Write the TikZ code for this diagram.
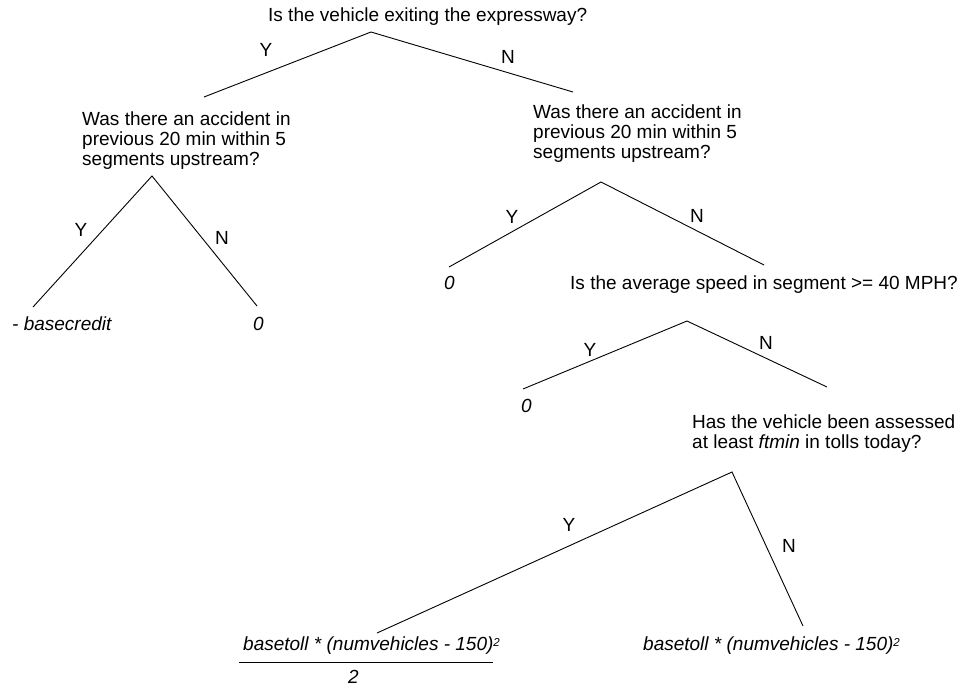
\documentclass[tikz,border=0pt]{standalone}
\usepackage{fontspec}
\setmainfont{Liberation Sans}
\newcommand{\supsq}{{\fontsize{11.5}{12}\selectfont\raisebox{3.5pt}{2}}}
\begin{document}
\begin{tikzpicture}[x=1pt,y=-1pt,
  every node/.style={inner sep=0pt, font=\fontsize{19}{20}\selectfont},
  txt/.style={anchor=base west},
  lbl/.style={anchor=center},
  br/.style={line width=0.9pt, black}]
\useasboundingbox (0,0) rectangle (961,686);
% question texts
\node[txt] (q0) at (268,21) {Is the vehicle exiting the expressway?};
\node[txt] (q1) at (82,125) {\begin{tabular}[t]{@{}l@{}}Was there an accident in\\previous 20 min within 5\\segments upstream?\end{tabular}};
\node[txt] (q2) at (533,118) {\begin{tabular}[t]{@{}l@{}}Was there an accident in\\previous 20 min within 5\\segments upstream?\end{tabular}};
\node[txt] (q3) at (570,289) {Is the average speed in segment >= 40 MPH?};
\node[txt] (q4) at (692,428) {\begin{tabular}[t]{@{}l@{}}Has the vehicle been assessed\\at least \textit{ftmin} in tolls today?\end{tabular}};
% leaves
\node[txt] (l1) at (12,330) {\itshape - basecredit};
\node[txt] (l2) at (253,330) {\itshape 0};
\node[txt] (l3) at (444,289) {\itshape 0};
\node[txt] (l4) at (521,412) {\itshape 0};
\node[txt] (l5) at (243,650) {\itshape basetoll * (numvehicles - 150)\supsq};
\node[txt] (l5d) at (348,683) {\itshape 2};
\node[txt] (l6) at (643,650) {\itshape basetoll * (numvehicles - 150)\supsq};
\draw[br] (239,662) -- (493,662);
% branch points
\coordinate (a0) at (371,32);  \coordinate (a0l) at (204,97);  \coordinate (a0r) at (573,92);
\coordinate (a1) at (152,176); \coordinate (a1l) at (33,307);  \coordinate (a1r) at (257,306);
\coordinate (a2) at (601,182); \coordinate (a2l) at (449,267); \coordinate (a2r) at (764,265);
\coordinate (a3) at (687,321); \coordinate (a3l) at (523,389); \coordinate (a3r) at (827,387);
\coordinate (a4) at (732,472); \coordinate (a4l) at (377,633); \coordinate (a4r) at (803,626);
\draw[br] (a0l) -- (a0) -- (a0r);
\draw[br] (a1l) -- (a1) -- (a1r);
\draw[br] (a2l) -- (a2) -- (a2r);
\draw[br] (a3l) -- (a3) -- (a3r);
\draw[br] (a4l) -- (a4) -- (a4r);
% labels
\node[lbl] (y0) at (266,50) {Y};  \node[lbl] (n0) at (508,57) {N};
\node[lbl] (y1) at (81,230) {Y};  \node[lbl] (n1) at (222,238) {N};
\node[lbl] (y2) at (512,217) {Y}; \node[lbl] (n2) at (697,216) {N};
\node[lbl] (y3) at (590,350) {Y}; \node[lbl] (n3) at (766,343) {N};
\node[lbl] (y4) at (569,525) {Y}; \node[lbl] (n4) at (789,546) {N};
\end{tikzpicture}
\end{document}
